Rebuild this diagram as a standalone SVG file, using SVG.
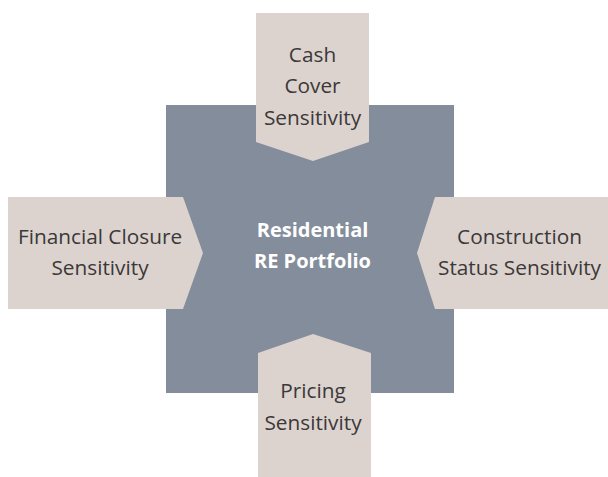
<svg xmlns="http://www.w3.org/2000/svg" width="608" height="477" viewBox="0 0 608 477">
<style>
.arrow{fill:#dcd3cf}
.lbl{font-family:"Open Sans","Liberation Sans",sans-serif;font-size:20.8px;fill:#3b3838;text-anchor:middle}
.ctr{font-family:"Open Sans","Liberation Sans",sans-serif;font-size:20px;font-weight:bold;fill:#ffffff;text-anchor:middle}
</style>
<rect width="608" height="477" fill="#ffffff"/>
<g id="center">
<rect x="166" y="105" width="288" height="288" fill="#838d9b"/>
<text class="ctr" x="312.5" y="237">Residential</text>
<text class="ctr" x="312.5" y="268">RE Portfolio</text>
</g>
<g id="connectors"></g>
<g id="top">
<polygon class="arrow" points="256,13 369,13 369,142 313,161 256,142"/>
<text class="lbl" x="312.5" y="62">Cash</text>
<text class="lbl" x="312.5" y="93">Cover</text>
<text class="lbl" x="312.5" y="125">Sensitivity</text>
</g>
<g id="left">
<polygon class="arrow" points="8,197 183,197 203,253 183,309 8,309"/>
<text class="lbl" x="100" y="244">Financial Closure</text>
<text class="lbl" x="100" y="275">Sensitivity</text>
</g>
<g id="right">
<polygon class="arrow" points="435,197 608,197 608,309 435,309 417,253"/>
<text class="lbl" x="519.5" y="244">Construction</text>
<text class="lbl" x="519.5" y="275">Status Sensitivity</text>
</g>
<g id="bottom">
<polygon class="arrow" points="258,353 313,334 371,353 371,477 258,477"/>
<text class="lbl" x="313" y="398">Pricing</text>
<text class="lbl" x="313" y="430">Sensitivity</text>
</g>
</svg>
